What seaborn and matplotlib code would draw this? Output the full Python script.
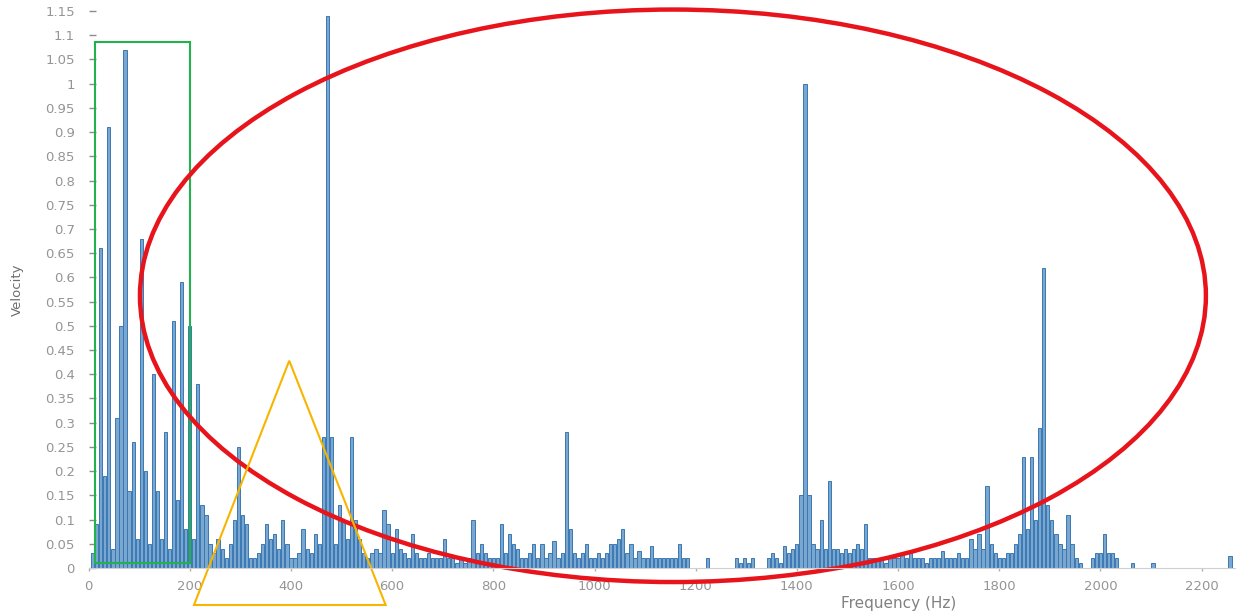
import pandas as pd
import seaborn as sns
import matplotlib.pyplot as plt
from matplotlib.patches import Rectangle, Ellipse, Polygon
from matplotlib.ticker import FuncFormatter

# spectrum (8 Hz bins)
freq_hz = [
    8, 16, 24, 32, 40, 48, 56, 64, 72, 80, 88, 96, 104, 112, 120, 128, 136, 144,
    152, 160, 168, 176, 184, 192, 200, 208, 216, 224, 232, 240, 248, 256, 264,
    272, 280, 288, 296, 304, 312, 320, 328, 336, 344, 352, 360, 368, 376, 384,
    392, 400, 408, 416, 424, 432, 440, 448, 456, 464, 472, 480, 488, 496, 504,
    512, 520, 528, 536, 544, 552, 560, 568, 576, 584, 592, 600, 608, 616, 624,
    632, 640, 648, 656, 664, 672, 680, 688, 696, 704, 712, 720, 728, 736, 744,
    752, 760, 768, 776, 784, 792, 800, 808, 816, 824, 832, 840, 848, 856, 864,
    872, 880, 888, 896, 904, 912, 920, 928, 936, 944, 952, 960, 968, 976, 984,
    992, 1000, 1008, 1016, 1024, 1032, 1040, 1048, 1056, 1064, 1072, 1080, 1088,
    1096, 1104, 1112, 1120, 1128, 1136, 1144, 1152, 1160, 1168, 1176, 1184,
    1224, 1280, 1288, 1296, 1304, 1312, 1344, 1352, 1360, 1368, 1376, 1384,
    1392, 1400, 1408, 1416, 1424, 1432, 1440, 1448, 1456, 1464, 1472, 1480,
    1488, 1496, 1504, 1512, 1520, 1528, 1536, 1544, 1552, 1560, 1568, 1576,
    1584, 1592, 1600, 1608, 1616, 1624, 1632, 1640, 1648, 1656, 1664, 1672,
    1680, 1688, 1696, 1704, 1712, 1720, 1728, 1736, 1744, 1752, 1760, 1768,
    1776, 1784, 1792, 1800, 1808, 1816, 1824, 1832, 1840, 1848, 1856, 1864,
    1872, 1880, 1888, 1896, 1904, 1912, 1920, 1928, 1936, 1944, 1952, 1960,
    1984, 1992, 2000, 2008, 2016, 2024, 2032, 2064, 2104, 2256,
]
velocity = [
    0.03, 0.09, 0.66, 0.19, 0.91, 0.04, 0.31, 0.50, 1.07, 0.16, 0.26, 0.06, 0.68,
    0.20, 0.05, 0.40, 0.16, 0.06, 0.28, 0.04, 0.51, 0.14, 0.59, 0.08, 0.50, 0.06,
    0.38, 0.13, 0.11, 0.05, 0.03, 0.06, 0.04, 0.02, 0.05, 0.10, 0.25, 0.11, 0.09,
    0.02, 0.02, 0.03, 0.05, 0.09, 0.06, 0.07, 0.04, 0.10, 0.05, 0.02, 0.02, 0.03,
    0.08, 0.04, 0.03, 0.07, 0.05, 0.27, 1.14, 0.27, 0.05, 0.13, 0.10, 0.06, 0.27,
    0.10, 0.06, 0.03, 0.02, 0.03, 0.04, 0.03, 0.12, 0.09, 0.03, 0.08, 0.04, 0.03,
    0.02, 0.07, 0.03, 0.02, 0.02, 0.03, 0.02, 0.02, 0.02, 0.06, 0.02, 0.02, 0.01,
    0.02, 0.01, 0.02, 0.10, 0.03, 0.05, 0.03, 0.02, 0.02, 0.02, 0.09, 0.03, 0.07,
    0.05, 0.04, 0.02, 0.02, 0.03, 0.05, 0.02, 0.05, 0.02, 0.03, 0.055, 0.02, 0.03,
    0.28, 0.08, 0.03, 0.02, 0.03, 0.05, 0.02, 0.02, 0.03, 0.02, 0.03, 0.05, 0.05,
    0.06, 0.08, 0.03, 0.05, 0.02, 0.035, 0.02, 0.02, 0.045, 0.02, 0.02, 0.02,
    0.02, 0.02, 0.02, 0.05, 0.02, 0.02,
    0.02, 0.02, 0.01, 0.02, 0.01, 0.02, 0.02, 0.03, 0.02, 0.01, 0.045, 0.03,
    0.04, 0.05, 0.15, 1.00, 0.15, 0.05, 0.04, 0.10, 0.04, 0.18, 0.04, 0.04,
    0.03, 0.04, 0.03, 0.04, 0.05, 0.04, 0.09, 0.02, 0.02, 0.02, 0.02, 0.01,
    0.02, 0.02, 0.02, 0.03, 0.02, 0.03, 0.02, 0.02, 0.02, 0.01, 0.02, 0.02,
    0.02, 0.035, 0.02, 0.02, 0.02, 0.03, 0.02, 0.02, 0.06, 0.04, 0.07, 0.04,
    0.17, 0.05, 0.03, 0.02, 0.02, 0.03, 0.03, 0.05, 0.07, 0.23, 0.08, 0.23,
    0.10, 0.29, 0.62, 0.13, 0.10, 0.07, 0.05, 0.04, 0.11, 0.05, 0.02, 0.01,
    0.02, 0.03, 0.03, 0.07, 0.03, 0.03, 0.02, 0.01, 0.01, 0.025,
]
x_ticks = [0, 200, 400, 600, 800, 1000, 1200, 1400, 1600, 1800, 2000, 2200]

df = pd.DataFrame({'Frequency': freq_hz, 'Velocity': velocity})

sns.set_style('white')
plt.rcParams['font.family'] = ['DejaVu Sans']

fig = plt.figure(figsize=(12.36, 6.14), dpi=100)
ax = fig.add_axes([88.6 / 1236, 46 / 614, (1236 - 88.6) / 1236, 557 / 614])

sns.barplot(data=df, x='Frequency', y='Velocity', native_scale=True, orient='x',
            width=0.8, color='#7aa7cf', saturation=1, edgecolor='#3a78b2',
            linewidth=0.7, errorbar=None, ax=ax)

ax.set_xlim(0, 2268)
ax.set_ylim(0, 1.15)
ax.set_xticks(x_ticks)
ax.set_yticks([i * 0.05 for i in range(24)])
ax.yaxis.set_major_formatter(FuncFormatter(lambda v, _: f'{round(v, 2):g}'))

grey = '#959595'
ax.tick_params(axis='y', direction='in', length=5, width=1, color='#8c8c8c',
               pad=10, labelsize=9.5, labelcolor=grey, left=True)
ax.tick_params(axis='x', direction='out', length=2.5, width=1, color='#b0b0b0',
               pad=6, labelsize=9.5, labelcolor=grey, bottom=True)

for side in ['left', 'top', 'right']:
    ax.spines[side].set_visible(False)
ax.spines['bottom'].set_color('#d0d0d0')

ax.set_xlabel('Frequency (Hz)', fontsize=11, color='#808080')
ax.set_ylabel('Velocity', fontsize=9.5, color='#6e6e6e')
ax.xaxis.set_label_coords(0.706, -0.05)
ax.yaxis.set_label_coords(-0.056, 0.5)

# annotation shapes drawn over the chart
ax.add_patch(Rectangle((13.2, 0.01), 186.6, 1.077, fill=False,
                       edgecolor='#22b14c', linewidth=1.5, clip_on=False))
ax.add_patch(Ellipse((1155, 0.562), 2107, 1.182, fill=False,
                     edgecolor='#e8141c', linewidth=3.2, clip_on=False))
ax.add_patch(Polygon([(396.6, 0.428), (208.3, -0.0764), (587.2, -0.0764)],
                     closed=True, fill=False, edgecolor='#f7b500',
                     linewidth=1.5, clip_on=False))

fig.savefig('out.png', dpi=100)
